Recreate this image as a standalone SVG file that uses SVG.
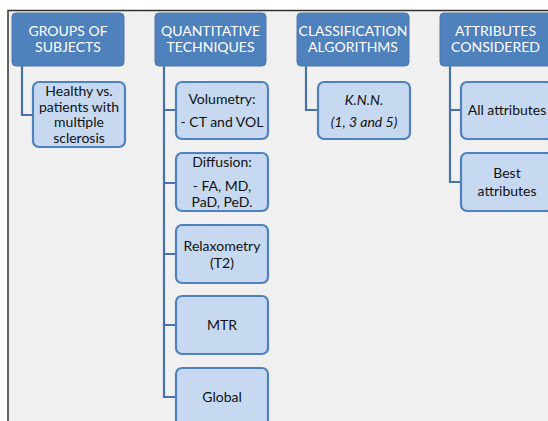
<svg xmlns="http://www.w3.org/2000/svg" width="548" height="421" viewBox="0 0 548 421">
<style>
.hdr{fill:#4f81bd;stroke:#4a76ad;stroke-width:1}
.hdrt{fill:#ffffff;font-family:Lato,"Liberation Sans",sans-serif;font-size:14px;text-anchor:middle}
.box{fill:#c6d9f0;stroke:#4f81bd;stroke-width:2.2}
.t{fill:#111111;font-family:Lato,"Liberation Sans",sans-serif;font-size:14px;text-anchor:middle}
.it{font-style:italic}
.con{fill:none;stroke:#4a72aa;stroke-width:2.2}
</style>
<rect x="0" y="0" width="548" height="421" fill="#ffffff"/>
<rect x="8" y="10.5" width="560" height="430" fill="#f0f0f0" stroke="#333333" stroke-width="1.5"/>
<g id="connectors">
<path class="con" d="M22 66 V115 H33"/>
<path class="con" d="M164 66 V397 H176 M164 110 H176 M164 183 H176 M164 254 H176 M164 325 H176"/>
<path class="con" d="M306 66 V110 H318"/>
<path class="con" d="M450 66 V182 H461 M450 110 H461"/>
</g>
<g id="h1"><rect class="hdr" x="12" y="13" width="112" height="53" rx="4"/><text class="hdrt" x="68" y="36">GROUPS OF</text><text class="hdrt" x="68" y="52">SUBJECTS</text></g>
<g id="h2"><rect class="hdr" x="155" y="13" width="111" height="53" rx="4"/><text class="hdrt" x="210.5" y="36">QUANTITATIVE</text><text class="hdrt" x="210.5" y="52">TECHNIQUES</text></g>
<g id="h3"><rect class="hdr" x="297" y="13" width="112" height="53" rx="4"/><text class="hdrt" x="353" y="36">CLASSIFICATION</text><text class="hdrt" x="353" y="52">ALGORITHMS</text></g>
<g id="h4"><rect class="hdr" x="440" y="13" width="112" height="53" rx="4"/><text class="hdrt" x="495.5" y="36">ATTRIBUTES</text><text class="hdrt" x="495.5" y="52">CONSIDERED</text></g>
<g id="n-healthy"><rect class="box" x="33" y="82" width="92" height="65" rx="6"/><text class="t" x="79" y="96">Healthy vs.</text><text class="t" x="79" y="111.5">patients with</text><text class="t" x="79" y="127">multiple</text><text class="t" x="79" y="142.5">sclerosis</text></g>
<g id="n-volumetry"><rect class="box" x="176" y="82" width="92" height="57" rx="6"/><text class="t" x="222" y="104">Volumetry:</text><text class="t" x="222" y="127">- CT and VOL</text></g>
<g id="n-diffusion"><rect class="box" x="176" y="153" width="92" height="58" rx="6"/><text class="t" x="222" y="167">Diffusion:</text><text class="t" x="222" y="190.5">- FA, MD,</text><text class="t" x="222" y="207">PaD, PeD.</text></g>
<g id="n-relax"><rect class="box" x="176" y="225" width="92" height="58" rx="6"/><text class="t" x="222" y="251">Relaxometry</text><text class="t" x="222" y="268">(T2)</text></g>
<g id="n-mtr"><rect class="box" x="176" y="296" width="92" height="58" rx="6"/><text class="t" x="222" y="330">MTR</text></g>
<g id="n-global"><rect class="box" x="176" y="368" width="92" height="70" rx="6"/><text class="t" x="222" y="402">Global</text></g>
<g id="n-knn"><rect class="box" x="318" y="82" width="92" height="57" rx="6"/><text class="t it" x="364" y="105">K.N.N.</text><text class="t it" x="364" y="127">(1, 3 and 5)</text></g>
<g id="n-all"><rect class="box" x="461" y="82" width="92" height="57" rx="6"/><text class="t" x="507" y="115">All attributes</text></g>
<g id="n-best"><rect class="box" x="461" y="153" width="92" height="58" rx="6"/><text class="t" x="507" y="178">Best</text><text class="t" x="507" y="196">attributes</text></g>
</svg>
